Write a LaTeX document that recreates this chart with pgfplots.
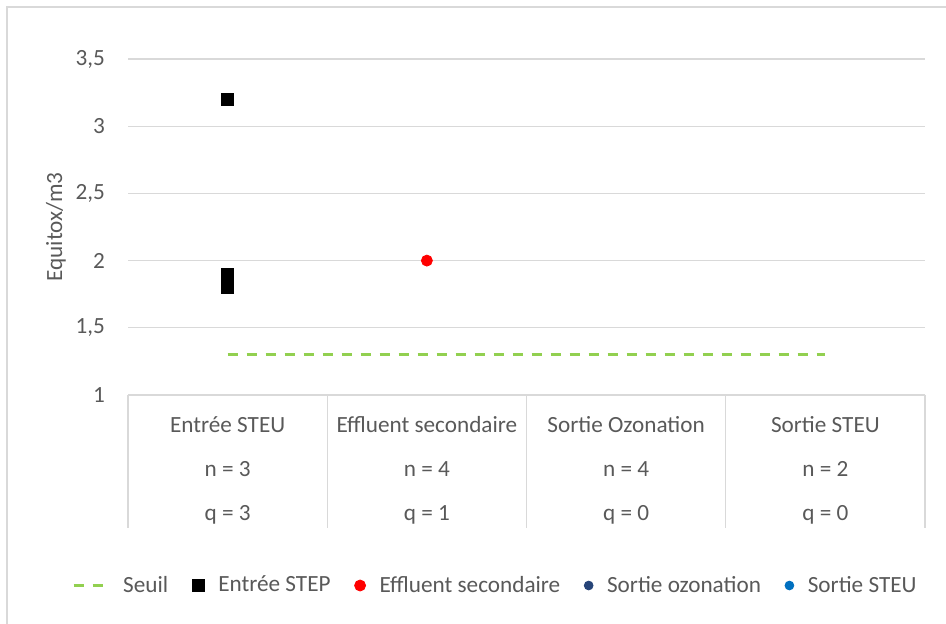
\documentclass[border=0pt]{standalone}
\usepackage{fontspec}
\setmainfont{Carlito}
\usepackage{pgfplots}
\pgfplotsset{compat=1.18}
\definecolor{txt}{HTML}{595959}
\definecolor{grd}{HTML}{D9D9D9}
\definecolor{seuil}{HTML}{92D050}
\definecolor{ozo}{HTML}{264478}
\definecolor{steu}{HTML}{0070C0}
\begin{document}
\begin{tikzpicture}
\useasboundingbox (-64pt,-114.5pt) rectangle (409pt,197.5pt);
\draw[grd, line width=0.6pt] (-60.5pt,-114.5pt) -- (-60.5pt,194pt) -- (409pt,194pt);
\begin{axis}[
    at={(0,0)}, anchor=south west,
    scale only axis,
    width=398.5pt, height=168pt,
    xmin=-0.5, xmax=3.5,
    ymin=1, ymax=3.5,
    ytick={1,1.5,2,2.5,3,3.5},
    xtick={0,1,2,3},
    xticklabels={{Entrée STEU\\n = 3\\q = 3},{Effluent secondaire\\n = 4\\q = 1},{Sortie Ozonation\\n = 4\\q = 0},{Sortie STEU\\n = 2\\q = 0}},
    xticklabel style={align=center, anchor=north, inner sep=0pt, yshift=-10.5pt, font=\fontsize{11.6}{22}\selectfont, text=txt},
    yticklabel style={font=\fontsize{11.6}{14}\selectfont, text=txt, xshift=-8pt},
    /pgf/number format/assume math mode=true,
    /pgf/number format/use comma,
    major tick length=0pt,
    ymajorgrids,
    grid style={grd, line width=0.6pt},
    axis x line*=bottom,
    axis y line*=left,
    y axis line style={draw=none},
    x axis line style={grd, line width=0.6pt, -},
    ylabel={Equitox/m3},
    ylabel style={font=\fontsize{11.6}{14}\selectfont, text=txt, yshift=-2pt},
    legend columns=-1,
    legend style={draw=none, at={(0.462,-0.567)}, anchor=center,
        font=\fontsize{11.6}{14}\selectfont, text=txt,
        /tikz/every odd column/.append style={column sep=5pt},
        /tikz/every even column/.append style={column sep=10pt}},
    clip=false,
]
\addplot[seuil, line width=1.6pt, dash pattern=on 5pt off 4.5pt] coordinates {(0,1.3) (3,1.3)};
\addlegendentry{Seuil}
\addplot[only marks, mark=square*, mark size=3pt, color=black] coordinates {(0,3.2) (0,1.9) (0,1.8)};
\addlegendentry{Entrée STEP}
\addplot[only marks, mark=*, mark size=2.75pt, color=red] coordinates {(1,2.0)};
\addlegendentry{Effluent secondaire}
\addlegendimage{only marks, mark=*, mark size=2.2pt, color=ozo}
\addlegendentry{Sortie ozonation}
\addlegendimage{only marks, mark=*, mark size=2.2pt, color=steu}
\addlegendentry{Sortie STEU}
\foreach \xx in {-0.5,0.5,1.5,2.5,3.5} {
  \edef\tmp{\noexpand\draw[grd, line width=0.6pt] (axis cs:\xx,1) -- ([yshift=-66.5pt]axis cs:\xx,1);}\tmp
}
\end{axis}
\end{tikzpicture}
\end{document}
